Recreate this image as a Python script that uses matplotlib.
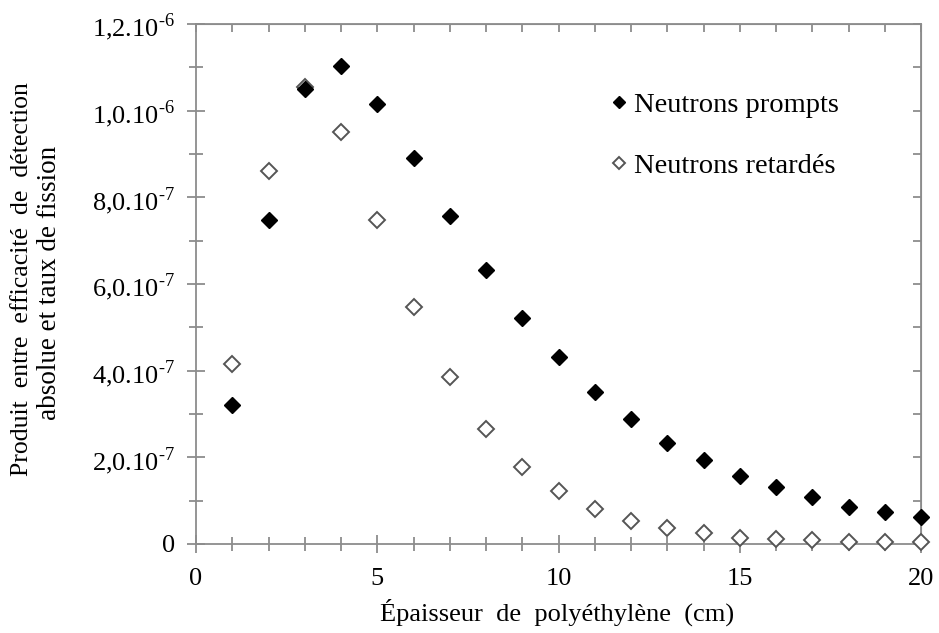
import matplotlib
matplotlib.use("Agg")
import matplotlib.pyplot as plt
import numpy as np

plt.rcParams['font.family'] = ['Liberation Serif', 'DejaVu Serif']
plt.rcParams['mathtext.fontset'] = 'custom'
plt.rcParams['mathtext.rm'] = 'Liberation Serif'

# epaisseur (cm)
thickness = np.arange(1, 21)
# produit efficacite x taux de fission
prompts = [3.20e-7, 7.48e-7, 1.050e-6, 1.103e-6, 1.015e-6, 8.91e-7, 7.57e-7, 6.32e-7,
           5.22e-7, 4.32e-7, 3.51e-7, 2.88e-7, 2.33e-7, 1.94e-7, 1.58e-7, 1.32e-7,
           1.08e-7, 8.6e-8, 7.5e-8, 6.2e-8]
delayed = [4.15e-7, 8.61e-7, 1.055e-6, 9.51e-7, 7.48e-7, 5.47e-7, 3.85e-7, 2.65e-7,
           1.78e-7, 1.22e-7, 8.1e-8, 5.3e-8, 3.6e-8, 2.5e-8, 1.5e-8, 1.2e-8,
           9e-9, 4e-9, 4e-9, 4e-9]

xticks = [0, 5, 10, 15, 20]
yticks = [0, 2e-7, 4e-7, 6e-7, 8e-7, 1e-6, 1.2e-6]
ytick_labels = ['0', r'2,0.10$^{\text{-7}}$', r'4,0.10$^{\text{-7}}$', r'6,0.10$^{\text{-7}}$',
                r'8,0.10$^{\text{-7}}$', r'1,0.10$^{\text{-6}}$', r'1,2.10$^{\text{-6}}$']

grey = '#8c8c8c'

fig = plt.figure(figsize=(9.39, 6.33), dpi=100)
ax = fig.add_axes([196/939, 89/633, 725/939, 520/633])

ax.plot(thickness, delayed, 'D', ms=7.8, mfc='white', mec='#555555', mew=1.4,
        clip_on=False, zorder=3, label='Neutrons retardés')
ax.plot(thickness, prompts, 'D', ms=8.2, mfc='black', mec='black',
        clip_on=False, zorder=4, label='Neutrons prompts')

ax.set_xlim(0, 20)
ax.set_ylim(0, 1.2e-6)
ax.set_xticks(xticks)
ax.set_xticks(np.arange(0, 21), minor=True)
ax.set_yticks(yticks)
ax.set_yticklabels(ytick_labels)
ax.set_yticks(np.arange(0, 13) * 1e-7, minor=True)

for s in ax.spines.values():
    s.set_color(grey)
    s.set_linewidth(1.3)

ax.tick_params(which='major', direction='inout', length=12.5, width=1.3, color=grey,
               labelsize=19, pad=9)
ax.tick_params(which='minor', direction='inout', length=10, width=1.3, color=grey)
ax.tick_params(axis='x', pad=11)

# ticks interieurs en haut et a droite
top = ax.secondary_xaxis('top')
top.set_xticks(np.arange(0, 21))
top.set_xticklabels([])
top.tick_params(direction='in', length=6, width=1.3, color=grey)
top.spines['top'].set_color(grey)
right = ax.secondary_yaxis('right')
right.set_yticks(np.arange(0, 13) * 1e-7)
right.set_yticklabels([])
right.tick_params(direction='in', length=6, width=1.3, color=grey)
right.spines['right'].set_color(grey)

fig.text(557/939, 1 - 612/633, 'Épaisseur  de  polyéthylène  (cm)', fontsize=19,
         ha='center', va='center')
fig.text(22/939, 1 - 279/633, 'Produit  entre  efficacité  de  détection', rotation=90,
         fontsize=18.5, ha='center', va='center')
fig.text(50/939, 1 - 283/633, 'absolue et taux de fission', rotation=90,
         fontsize=19.5, ha='center', va='center')

h, l = ax.get_legend_handles_labels()
ax.legend(h[::-1], l[::-1], loc='center left', bbox_to_anchor=(0.532, 0.785),
          frameon=False, fontsize=20.5, handletextpad=0.15, handlelength=0.8,
          labelspacing=1.24, markerscale=0.8)

fig.savefig('out.png', dpi=100)
